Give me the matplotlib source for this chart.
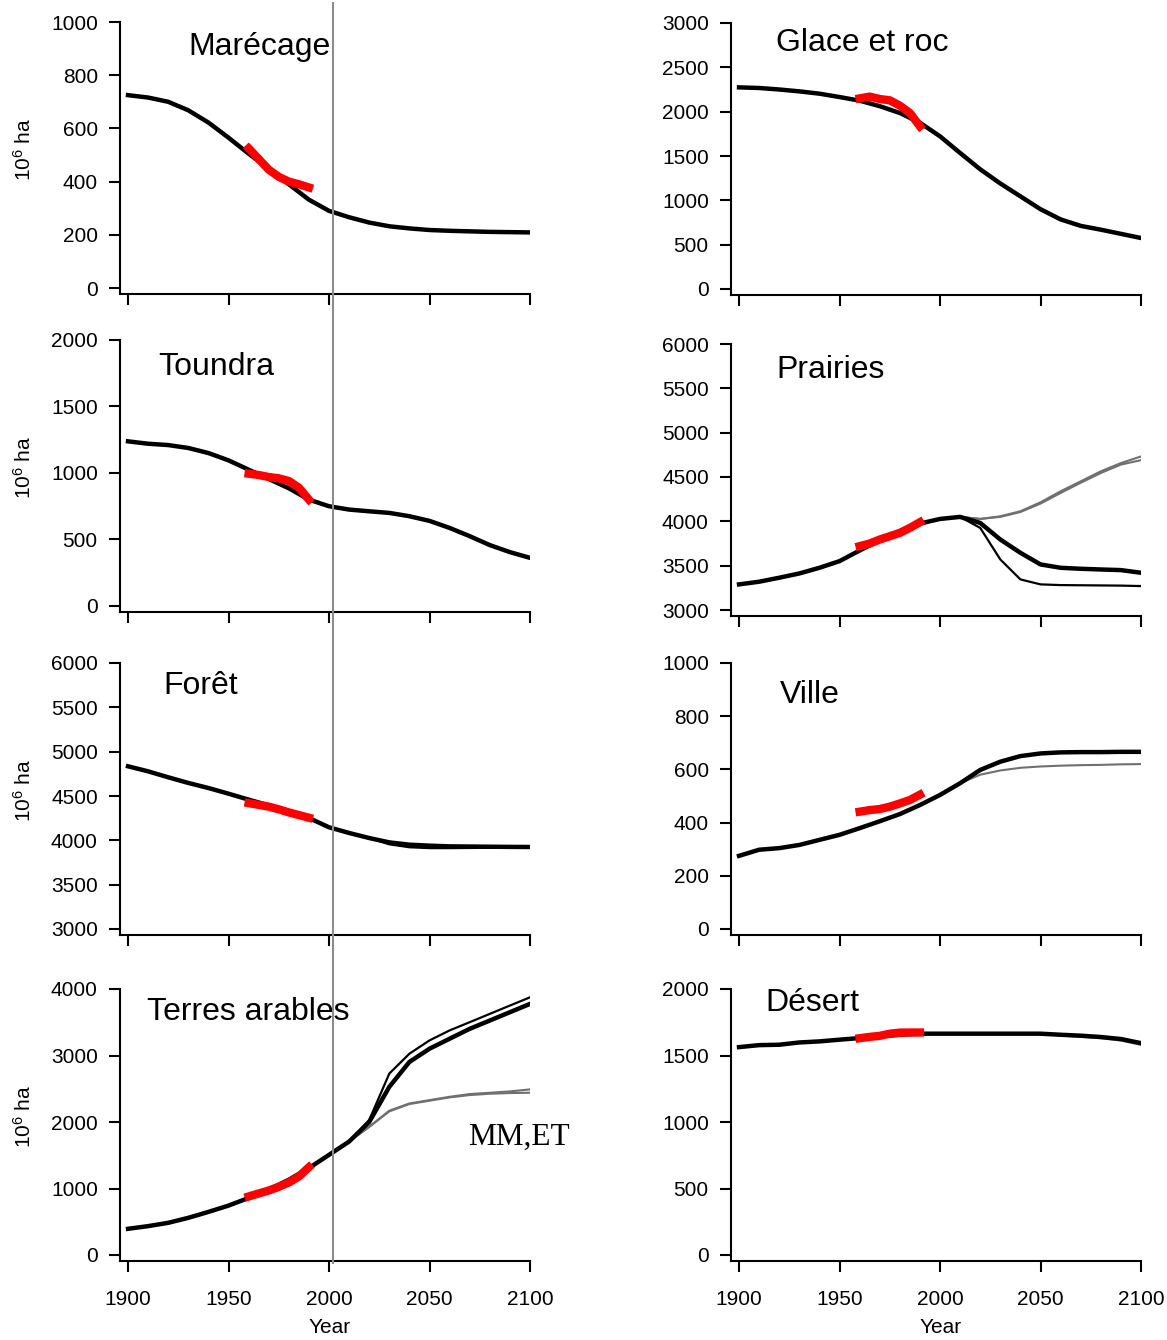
import matplotlib
matplotlib.use("Agg")
import matplotlib.pyplot as plt
from matplotlib import transforms
from matplotlib.lines import Line2D

plt.rcParams['font.family'] = ['Liberation Sans', 'DejaVu Sans']

# year grids
years = [1900, 1910, 1920, 1930, 1940, 1950, 1960, 1970, 1980, 1990, 2000,
         2010, 2020, 2030, 2040, 2050, 2060, 2070, 2080, 2090, 2100]
fut_years = [2010, 2020, 2030, 2040, 2050, 2060, 2070, 2080, 2090, 2100]
obs_years = [1960, 1965, 1970, 1975, 1980, 1985, 1990]

# Marécage
wet = [725, 716, 700, 668, 622, 565, 505, 448, 390, 332, 290,
       266, 246, 232, 224, 218, 215, 213, 211, 210, 209]
wet_obs = [525, 485, 445, 418, 400, 390, 378]

# Glace et roc
ice = [2274, 2267, 2250, 2229, 2203, 2165, 2124, 2062, 1985, 1875, 1722,
       1534, 1350, 1190, 1045, 900, 785, 712, 669, 622, 575]
ice_obs = [2150, 2170, 2143, 2128, 2068, 1985, 1835]

# Toundra
tundra = [1238, 1220, 1210, 1188, 1150, 1095, 1025, 955, 885, 800, 750,
          725, 712, 700, 675, 640, 587, 525, 458, 405, 362]
tundra_obs = [995, 985, 970, 960, 940, 890, 800]

# Prairies
grass = [3289, 3319, 3364, 3412, 3476, 3551, 3671, 3787, 3889, 3975, 4027,
         4050, 3982, 3795, 3645, 3514, 3476, 3465, 3457, 3450, 3420]
grass_thin = [4050, 3926, 3570, 3345, 3289, 3281, 3279, 3277, 3275, 3270]
grass_gray = [4050, 4027, 4057, 4114, 4215, 4339, 4451, 4564, 4657, 4732]
grass_gray2 = [4050, 4027, 4050, 4105, 4200, 4320, 4435, 4545, 4640, 4690]
grass_obs = [3720, 3750, 3795, 3832, 3870, 3926, 3990]

# Forêt
forest = [4835, 4778, 4711, 4647, 4590, 4526, 4459, 4395, 4327, 4252, 4147,
          4083, 4026, 3977, 3951, 3940, 3932, 3930, 3928, 3926, 3925]
forest_thin = [4083, 4026, 3955, 3922, 3912, 3912, 3914, 3916, 3918, 3920]
forest_obs = [4420, 4400, 4380, 4350, 4315, 4285, 4255]

# Ville
city = [275, 298, 304, 316, 335, 354, 379, 405, 432, 466, 504,
        548, 598, 629, 650, 660, 664, 665, 665, 666, 666]
city_gray = [548, 580, 596, 606, 611, 614, 616, 617, 619, 620]
city_obs = [441, 447, 451, 460, 472, 485, 505]

# Terres arables
crop = [394, 434, 484, 559, 648, 743, 858, 983, 1132, 1307, 1506,
        1706, 2000, 2529, 2903, 3102, 3252, 3401, 3526, 3651, 3776]
crop_thin = [1706, 2030, 2728, 3027, 3227, 3377, 3501, 3626, 3751, 3875]
crop_gray = [1706, 1930, 2170, 2279, 2329, 2379, 2420, 2440, 2460, 2490]
crop_gray2 = [1706, 1925, 2160, 2270, 2320, 2370, 2405, 2425, 2435, 2440]
crop_obs = [880, 925, 970, 1025, 1090, 1180, 1320]

# Désert
desert = [1563, 1578, 1581, 1598, 1606, 1619, 1631, 1644, 1656, 1664, 1664,
          1664, 1664, 1664, 1664, 1664, 1656, 1649, 1639, 1624, 1593]
desert_gray = [1664, 1664, 1664, 1664, 1664, 1650, 1640, 1630, 1612, 1580]
desert_obs = [1630, 1640, 1648, 1664, 1672, 1673, 1673]

titles = ['Marécage', 'Glace et roc', 'Toundra', 'Prairies',
          'Forêt', 'Ville', 'Terres arables', 'Désert']
ytick_sets = [[0, 200, 400, 600, 800, 1000],
              [0, 500, 1000, 1500, 2000, 2500, 3000],
              [0, 500, 1000, 1500, 2000],
              [3000, 3500, 4000, 4500, 5000, 5500, 6000],
              [3000, 3500, 4000, 4500, 5000, 5500, 6000],
              [0, 200, 400, 600, 800, 1000],
              [0, 1000, 2000, 3000, 4000],
              [0, 500, 1000, 1500, 2000]]
xticks = [1900, 1950, 2000, 2050, 2100]

panels = [
    (wet, [], [], wet_obs),
    (ice, [], [], ice_obs),
    (tundra, [], [], tundra_obs),
    (grass, [grass_thin], [grass_gray, grass_gray2], grass_obs),
    (forest, [forest_thin], [], forest_obs),
    (city, [], [city_gray], city_obs),
    (crop, [crop_thin], [crop_gray, crop_gray2], crop_obs),
    (desert, [], [desert_gray], desert_obs),
]

W, H = 1167, 1340
fig = plt.figure(figsize=(W / 100, H / 100), dpi=100)

# pixel boxes: left x, top y of each axes
left_px = [120, 731]
top_px = [[22, 340, 663, 989], [23, 344, 663, 989]]
ax_w, ax_h, plot_h = 410, 272, 266

title_pos = [(0.166, 0.908), (0.110, 0.925), (0.093, 0.900), (0.110, 0.905),
             (0.105, 0.915), (0.120, 0.883), (0.066, 0.915), (0.085, 0.948)]

axes = []
for i, (main, thins, grays, obs) in enumerate(panels):
    col = i % 2
    row = i // 2
    x0 = left_px[col] / W
    y0 = 1 - (top_px[col][row] + ax_h) / H
    ax = fig.add_axes([x0, y0, ax_w / W, ax_h / H])
    axes.append(ax)

    for g in grays:
        ax.plot(fut_years, g, color='#707070', lw=1.5, zorder=2)
    for t in thins:
        ax.plot(fut_years, t, color='black', lw=1.6, zorder=3)
    ax.plot(years, main, color='black', lw=3.2, zorder=4)
    ax.plot(obs_years, obs, color='#ff0000', lw=6, zorder=5)

    yt = ytick_sets[i]
    span = yt[-1] - yt[0]
    ax.set_ylim(yt[0] - span * (ax_h - plot_h) / plot_h, yt[-1])
    ax.set_xlim(1896, 2100)
    ax.set_yticks(yt)
    ax.set_xticks(xticks)
    for s in ['top', 'right']:
        ax.spines[s].set_visible(False)
    for s in ['left', 'bottom']:
        ax.spines[s].set_linewidth(1.5)
    ax.tick_params(axis='both', direction='out', length=8, width=1.5,
                   labelsize=15)
    ax.tick_params(axis='y', pad=8)
    ax.tick_params(axis='x', pad=13)
    if row < 3:
        ax.tick_params(axis='x', labelbottom=False)
    else:
        ax.text(0.512, -0.243, 'Year', transform=ax.transAxes, fontsize=15,
                ha='center', va='center')
    if col == 0:
        ax.text(-0.234, 0.53, '$\\mathregular{10^6}$ ha', transform=ax.transAxes,
                fontsize=15, rotation=90, ha='center', va='center')
    tx, ty = title_pos[i]
    ax.text(tx, ty, titles[i], transform=ax.transAxes, fontsize=23,
            ha='left', va='center')

axes[6].text(0.849, 0.456, 'MM,ET', transform=axes[6].transAxes,
             fontsize=22.5, family='Liberation Serif', ha='left', va='center')

# vertical reference line through the left column
trans = transforms.blended_transform_factory(axes[6].transData, fig.transFigure)
fig.add_artist(Line2D([2002, 2002], [1 - 3 / H, 1 - 1263 / H], transform=trans,
                      color='#8c8c8c', lw=1.5, zorder=10))

fig.savefig('out.png', dpi=100)
